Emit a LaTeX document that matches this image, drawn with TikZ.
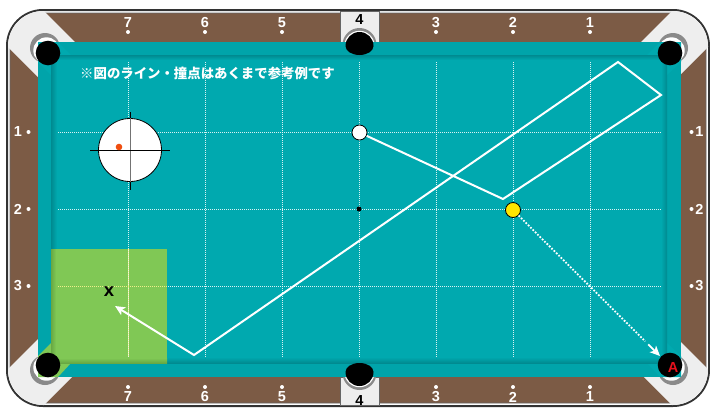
\documentclass[tikz,border=0pt]{standalone}
\usepackage{fontspec}
\newfontfamily\cjk{Noto Sans CJK JP}
\newfontfamily\lsansb{Liberation Sans Bold}
\usetikzlibrary{arrows.meta,calc}
\definecolor{rail}{HTML}{7C5B45}
\definecolor{felt}{HTML}{00A9AF}
\definecolor{cush}{HTML}{00A4AA}
\definecolor{shad}{HTML}{008A90}
\definecolor{cornerg}{HTML}{EEEEEE}
\definecolor{ringg}{HTML}{8A8A8A}
\definecolor{zone}{HTML}{80C855}
\definecolor{zoned}{HTML}{68A843}
\definecolor{zoneln}{HTML}{EEF08A}
\definecolor{ballY}{HTML}{FFE600}
\definecolor{tipred}{HTML}{F04E10}
\definecolor{pocketA}{HTML}{E8101C}
\begin{document}
\begin{tikzpicture}[x=1pt,y=-1pt,
  railnum/.style={text=white, font=\lsansb\fontsize{14.5}{14.5}\selectfont, inner sep=0pt},
  fournum/.style={text=black, font=\lsansb\fontsize{14.5}{14.5}\selectfont, inner sep=0pt},
  gridln/.style={white, opacity=0.85, line width=0.8pt, dash pattern=on 1pt off 1pt},
  zoneline/.style={zoneln, line width=0.8pt, dash pattern=on 1pt off 1pt},
  shotline/.style={white, line width=2pt},
  dotline/.style={white, line width=1.8pt, dash pattern=on 1.7pt off 1.6pt},
  ballnode/.style={circle, draw=black, line width=0.8pt, inner sep=0pt, minimum size=15pt},
  tiphead/.style={-{Stealth[length=10pt,width=9pt,inset=2.5pt]}}
]
\useasboundingbox (0,0) rectangle (710,408);

% frame
\draw[line width=2pt, draw=black!80, fill=white, rounded corners=36pt] (7,10) rectangle (709,406);
\draw[line width=0.6pt, draw=black!60, fill=rail, rounded corners=33pt] (10,13) rectangle (706,403);

% corner pieces
\begin{scope}
\clip[rounded corners=35pt] (8,11) rectangle (708,405);
\fill[cornerg] (7,10) -- (7,46) -- (67,106) -- (103,70) -- (43,10) -- cycle;
\fill[cornerg] (709,10) -- (709,46) -- (649,106) -- (613,70) -- (673,10) -- cycle;
\fill[cornerg] (7,406) -- (7,370) -- (67,310) -- (103,346) -- (43,406) -- cycle;
\fill[cornerg] (709,406) -- (709,370) -- (649,310) -- (613,346) -- (673,406) -- cycle;
\end{scope}

% side pocket boxes
\filldraw[fill=cornerg, draw=black!60, line width=0.6pt] (340,11) rectangle (379,42);
\filldraw[fill=cornerg, draw=black!60, line width=0.6pt] (340,377) rectangle (379,405);

% pocket rings
\foreach \rx/\ry/\wx/\wy in {45/48/46.5/50.5, 673/48/671.5/50.5, 45/370/46.5/367.5, 673/370/671.5/367.5}{
  \fill[ringg] (\rx,\ry) circle[radius=15pt];
  \fill[white] (\wx,\wy) circle[radius=13.2pt];
}
\fill[ringg] (359.5,45) circle[radius=17pt];
\fill[white] (359.5,46) circle[radius=15.2pt];
\fill[ringg] (359.5,373) circle[radius=17pt];
\fill[white] (359.5,372) circle[radius=15.2pt];

% cushion and felt
\fill[cush] (38,42) rectangle (681,377);
\fill[felt] (51,55) rectangle (667,363);
\fill[felt] (51,55) -- (71,55) -- (58,42) -- (38,42) -- (38,62) -- (51,75) -- cycle;
\fill[felt] (667,55) -- (647,55) -- (660,42) -- (681,42) -- (681,62) -- (667,75) -- cycle;
\fill[felt] (667,363) -- (647,363) -- (660,377) -- (681,377) -- (681,356) -- (667,343) -- cycle;
\shade[left color=shad, right color=felt] (51,55) rectangle (57,363);
\shade[left color=felt, right color=shad] (661,55) rectangle (667,363);
\shade[top color=shad, bottom color=felt] (51,55) rectangle (667,60);
\shade[top color=felt, bottom color=shad] (51,357) rectangle (667,363);

% green zone
\fill[zone] (51,249) rectangle (167,363);
\fill[zone] (51,363) -- (71,363) -- (58,377) -- (38,377) -- (38,356) -- (51,343) -- cycle;
\shade[left color=zoned, right color=zone] (51,249) rectangle (56,363);
\shade[top color=zone, bottom color=zoned] (51,358) rectangle (167,363);

% grid
\foreach \gx in {128,205,282,359,436,513,590}{
  \draw[gridln] (\gx,62) -- (\gx,357);
}
\foreach \gy in {132,209,286}{
  \draw[gridln] (58,\gy) -- (661,\gy);
}
\begin{scope}
\clip (51,249) rectangle (167,363);
\draw[zoneline] (128,249) -- (128,357);
\draw[zoneline] (58,286) -- (167,286);
\end{scope}

% pocket holes
\foreach \bx/\by in {48/53, 670/53, 48/365, 670/365}{
  \fill[black] (\bx,\by) circle[radius=12.3pt];
}
\fill[black] (345.5,46) arc[start angle=180, end angle=0, radius=14pt]
  arc[start angle=0, end angle=-180, x radius=14pt, y radius=9pt] -- cycle;
\fill[black] (345.5,372) arc[start angle=180, end angle=360, radius=14pt]
  arc[start angle=0, end angle=180, x radius=14pt, y radius=9pt] -- cycle;

% rail numbers
\foreach \nx/\nt in {128/7,205/6,282/5,436/3,513/2,590/1}{
  \node[railnum] (top\nt) at (\nx,22.5) {\nt};
  \fill[white] (\nx,32) circle[radius=2pt];
  \node[railnum] (bot\nt) at (\nx,397) {\nt};
  \fill[white] (\nx,387) circle[radius=2pt];
}
\node[fournum] (topfour) at (359.5,19.5) {4};
\node[fournum] (botfour) at (359.5,400.5) {4};
\foreach \ny/\nt in {132/1,209/2,286/3}{
  \node[railnum] (lft\nt) at (18,\ny) {\nt};
  \fill[white] (28.5,\ny) circle[radius=2pt];
  \node[railnum] (rgt\nt) at (699.5,\ny) {\nt};
  \fill[white] (691.5,\ny) circle[radius=2pt];
}

% note
\node[anchor=west, text=white, font=\cjk\bfseries\fontsize{13.4}{13.4}\selectfont, inner sep=0pt] (note) at (80,73) {※図のライン・撞点はあくまで参考例です};

% aim diagram
\node[circle, draw=black, line width=0.8pt, fill=white, minimum size=63pt, inner sep=0pt] (aim) at (130,150) {};
\draw[black, line width=0.9pt] ([yshift=6pt]aim.north) -- ([yshift=-8pt]aim.south);
\draw[black!55, line width=0.9pt] (aim.north) -- (aim.south);
\draw[black, line width=0.9pt] ([xshift=-8pt]aim.west) -- ([xshift=8pt]aim.east);
\fill[tipred] (119,147) circle[radius=3.3pt];

% balls and paths
\node[ballnode, fill=white] (cue) at (359.5,132.5) {};
\node[ballnode, fill=ballY] (obj) at (513,210) {};
\node[circle, fill=black, inner sep=0pt, minimum size=5pt] (spot) at (359,209) {};
\coordinate (b1) at (503,199);
\coordinate (b2) at (661,95);
\coordinate (b3) at (618,62);
\coordinate (b4) at (194,355);
\coordinate (b5) at (115,306);
\draw[shotline, line join=miter, tiphead] (cue) -- (b1) -- (b2) -- (b3) -- (b4) -- (b5);
\coordinate (pa) at (660,356);
\draw[dotline] (obj) -- ($(obj)!0.9!(pa)$);
\draw[white, line width=1.8pt, tiphead] ($(obj)!0.92!(pa)$) -- (pa);

\node[font=\lsansb\fontsize{18.5}{18.5}\selectfont, inner sep=0pt] (xlbl) at (109,292) {x};
\node[text=pocketA, font=\lsansb\fontsize{14.5}{14.5}\selectfont, inner sep=0pt] (alabel) at (673,368) {A};
\end{tikzpicture}
\end{document}
